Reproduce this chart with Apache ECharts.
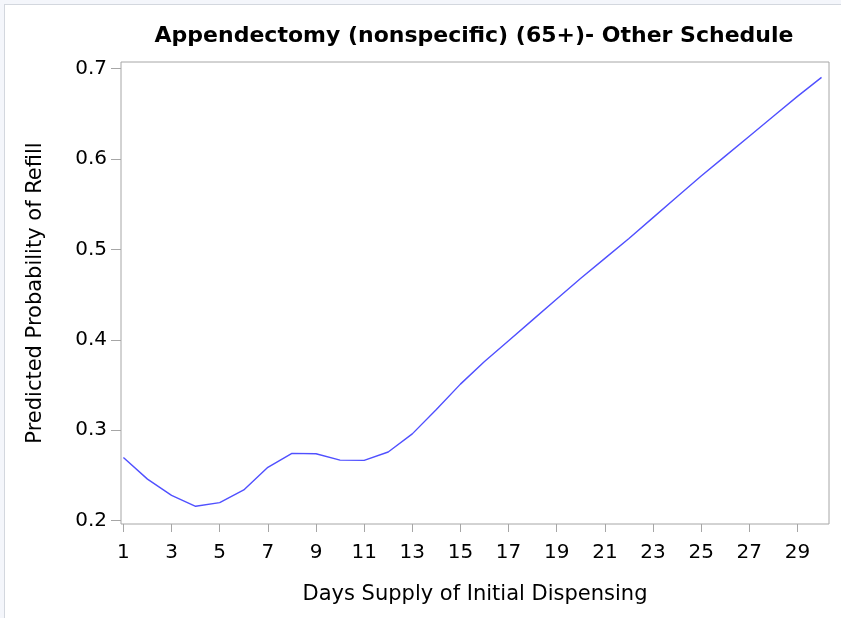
<!DOCTYPE html>
<html>
<head>
<meta charset="utf-8">
<script src="https://cdn.jsdelivr.net/npm/echarts@6/dist/echarts.min.js"></script>
<style>
  html, body { margin: 0; padding: 0; background: #f4f6fb; }
  #frame { position: absolute; left: 4px; top: 4px; width: 837px; height: 614px; background: #ffffff; border-left: 1px solid #d3d7de; border-top: 1px solid #d3d7de; box-sizing: border-box; }
  #chart { position: absolute; left: 0; top: 0; width: 841px; height: 618px; }
</style>
</head>
<body>
<div id="frame"></div>
<div id="chart"></div>
<script>
const titleText = "Appendectomy (nonspecific) (65+)- Other Schedule";
const xName = "Days Supply of Initial Dispensing";
const yName = "Predicted Probability of Refill";
const days = [1,2,3,4,5,6,7,8,9,10,11,12,13,14,15,16,17,18,19,20,21,22,23,24,25,26,27,28,29,30];
const probability = [0.270,0.246,0.228,0.216,0.220,0.234,0.259,0.2745,0.274,0.267,0.2667,0.276,0.296,0.323,0.351,0.376,0.399,0.422,0.445,0.468,0.490,0.512,0.535,0.558,0.581,0.603,0.625,0.647,0.669,0.690];
const xTicks = [1,3,5,7,9,11,13,15,17,19,21,23,25,27,29];
const yTicks = [0.2,0.3,0.4,0.5,0.6,0.7];

const chart = echarts.init(document.getElementById('chart'), null, {renderer: 'canvas'});
const font = 'DejaVu Sans, sans-serif';
chart.setOption({
  animation: false,
  backgroundColor: 'transparent',
  title: {
    text: titleText,
    left: 469, top: 20, textAlign: 'center',
    textStyle: {fontFamily: font, fontSize: 22, fontWeight: 'bold', color: '#000'}
  },
  grid: {left: 121, right: 12, top: 62, bottom: 94, show: true, borderColor: '#a6a6a6', borderWidth: 1, backgroundColor: '#fff'},
  xAxis: {
    type: 'value', min: 0.9, max: 30.31,
    name: xName, nameLocation: 'middle', nameGap: 60,
    nameTextStyle: {fontFamily: font, fontSize: 21, color: '#000'},
    axisLine: {show: false},
    splitLine: {show: false},
    axisTick: {show: true, length: 8, customValues: xTicks, lineStyle: {color: '#a6a6a6'}},
    axisLabel: {customValues: xTicks, margin: 19, fontFamily: font, fontSize: 20, color: '#000'}
  },
  yAxis: {
    type: 'value', min: 0.1964, max: 0.707,
    name: yName, nameLocation: 'middle', nameGap: 75, nameRotate: 90,
    nameTextStyle: {fontFamily: font, fontSize: 21, color: '#000'},
    axisLine: {show: false},
    splitLine: {show: false},
    axisTick: {show: true, length: 10, customValues: yTicks, lineStyle: {color: '#a6a6a6'}},
    axisLabel: {customValues: yTicks, margin: 14, fontFamily: font, fontSize: 20, color: '#000', formatter: v => v.toFixed(1)}
  },
  series: [{
    type: 'line',
    data: days.map((d, i) => [d, probability[i]]),
    showSymbol: false,
    lineStyle: {color: '#5050ff', width: 1.4},
    itemStyle: {color: '#5050ff'}
  }]
});
</script>
</body>
</html>
